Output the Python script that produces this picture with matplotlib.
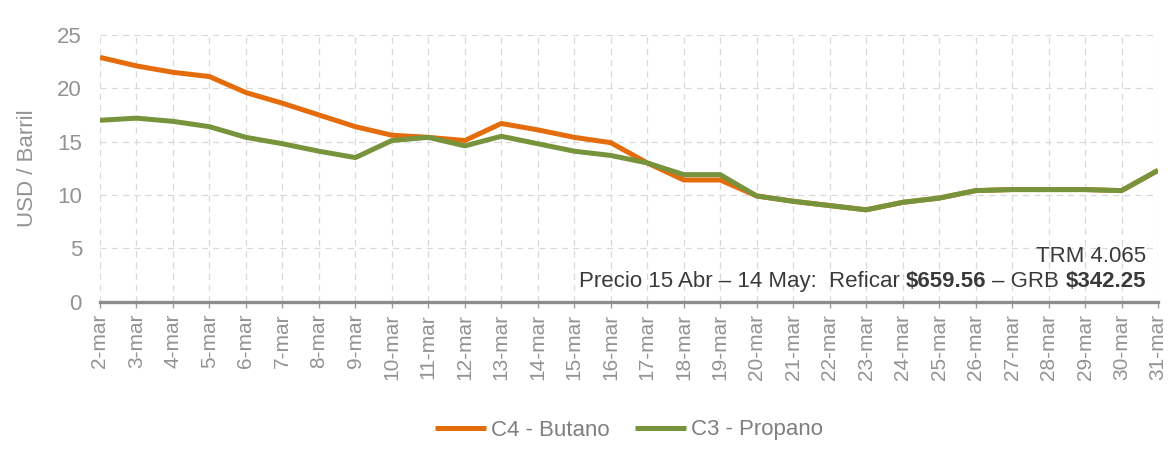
import matplotlib
matplotlib.use("Agg")
import matplotlib.pyplot as plt

plt.rcParams['font.family'] = ['Liberation Sans', 'DejaVu Sans']

dates = ["2-mar", "3-mar", "4-mar", "5-mar", "6-mar", "7-mar", "8-mar", "9-mar", "10-mar",
         "11-mar", "12-mar", "13-mar", "14-mar", "15-mar", "16-mar", "17-mar", "18-mar",
         "19-mar", "20-mar", "21-mar", "22-mar", "23-mar", "24-mar", "25-mar", "26-mar",
         "27-mar", "28-mar", "29-mar", "30-mar", "31-mar"]
butano = [22.9, 22.1, 21.5, 21.1, 19.6, 18.6, 17.5, 16.4, 15.6, 15.4, 15.1, 16.7, 16.1, 15.4,
          14.9, 13.0, 11.4, 11.4, 9.9, 9.4, 9.0, 8.6, 9.3, 9.7, 10.4, 10.5, 10.5, 10.5, 10.4, 12.3]
propano = [17.0, 17.2, 16.9, 16.4, 15.4, 14.8, 14.1, 13.5, 15.1, 15.4, 14.6, 15.5, 14.8, 14.1,
           13.7, 13.0, 11.9, 11.9, 9.9, 9.4, 9.0, 8.6, 9.3, 9.7, 10.4, 10.5, 10.5, 10.5, 10.4, 12.3]
yticks = [0, 5, 10, 15, 20, 25]

ORANGE = "#E46C0A"
GREEN = "#77933C"
GRID = "#d9d9d9"
TICKC = "#939393"
FS = 15
FS_BIG = 16

W, H = 1168, 463
fig = plt.figure(figsize=(W / 100, H / 100), dpi=100)
fig.patch.set_facecolor("white")
ax = fig.add_axes([100 / W, 1 - 301.5 / H, 1058 / W, (301.5 - 35) / H])

x = list(range(len(dates)))
ax.plot(x, butano, color=ORANGE, lw=3.6, label="C4 - Butano", zorder=3,
        solid_joinstyle="round", solid_capstyle="butt")
ax.plot(x, propano, color=GREEN, lw=3.6, label="C3 - Propano", zorder=4,
        solid_joinstyle="round", solid_capstyle="butt")

ax.set_xlim(0, len(dates) - 1)
ax.set_ylim(0, 25)
ax.set_xticks(x)
ax.set_xticklabels(dates, rotation=90, fontsize=FS, color=TICKC)
ax.set_yticks(yticks)
ax.set_yticklabels([str(v) for v in yticks], fontsize=FS_BIG, color=TICKC)

ax.tick_params(axis="x", length=4, width=1, color="#9a9a9a", pad=5)
ax.tick_params(axis="y", length=0, pad=13)

ax.grid(True, which="major", axis="both", color=GRID, linestyle=(0, (5, 4)), lw=0.9)
ax.set_axisbelow(True)
for s in ["top", "right", "left"]:
    ax.spines[s].set_visible(False)
ax.spines["bottom"].set_color("#8c8c8c")
ax.spines["bottom"].set_linewidth(2.4)
ax.spines["bottom"].set_zorder(5)

ax.set_ylabel("USD / Barril", fontsize=FS_BIG, color=TICKC)
ax.yaxis.set_label_coords(-62 / 1058, 0.5)

leg = fig.legend(loc="center", bbox_to_anchor=(629 / W, 1 - 430 / H), ncol=2, frameon=False,
                 fontsize=FS_BIG, handlelength=2.3, handletextpad=0.25, columnspacing=1.1)
for t in leg.get_texts():
    t.set_color("#7f7f7f")

# Annotation with mixed bold text, right aligned
TXT = "#3a3a3a"
right_px = 1146
fig.text(right_px / W, (H - 262) / H, "TRM 4.065", ha="right", va="baseline",
         fontsize=FS_BIG, color=TXT)

pieces = [("Precio 15 Abr \u2013 14 May:  Reficar", "normal"),
          ("$659.56", "bold"),
          ("\u2013 GRB", "normal"),
          ("$342.25", "bold")]
fig.canvas.draw()
renderer = fig.canvas.get_renderer()
widths = []
for txt, wt in pieces:
    t = fig.text(0, 0, txt, fontsize=FS_BIG, fontweight=wt)
    widths.append(t.get_window_extent(renderer).width)
    t.remove()
space = FS_BIG * 100 / 72 * 0.278
cur = right_px
base_y = H - 287
for (txt, wt), w in reversed(list(zip(pieces, widths))):
    fig.text(cur / W, base_y / H, txt, ha="right", va="baseline", fontsize=FS_BIG,
             fontweight=wt, color=TXT)
    cur -= w + space

fig.savefig("out.png", dpi=100, facecolor="white")
